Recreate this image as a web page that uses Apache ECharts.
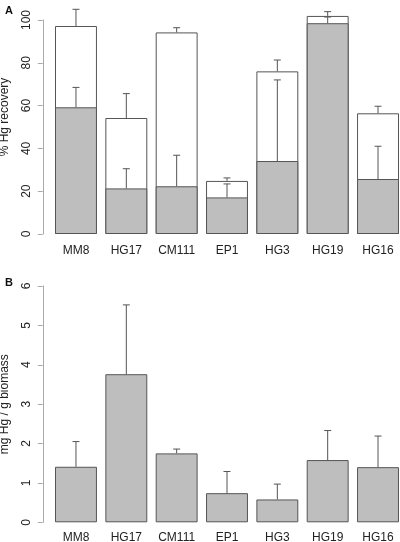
<!DOCTYPE html>
<html>
<head>
<meta charset="utf-8">
<script src="https://cdn.jsdelivr.net/npm/echarts@6/dist/echarts.min.js"></script>
<style>html,body{margin:0;padding:0;background:#fff}#c{width:400px;height:542px}</style>
</head>
<body>
<div id="c"></div>
<script>
var categories = ['MM8', 'HG17', 'CM111', 'EP1', 'HG3', 'HG19', 'HG16'];
var totalRecovery = [97.2, 54.2, 94.2, 24.8, 76.0, 101.9, 56.4];
var totalErr = [7.8, 11.4, 2.2, 1.4, 5.3, 2.0, 3.3];
var cellRecovery = [59.2, 21.3, 22.3, 17.1, 34.1, 98.5, 25.7];
var cellErr = [9.3, 9.2, 14.5, 6.3, 37.9, 2.9, 15.3];
var biomass = [1.41, 3.76, 1.75, 0.74, 0.58, 1.58, 1.40];
var biomassErr = [0.64, 1.76, 0.11, 0.55, 0.39, 0.75, 0.79];
var ticksA = [0, 20, 40, 60, 80, 100];
var ticksB = [0, 1, 2, 3, 4, 5, 6];

var FONT = 'Liberation Sans, Arial, sans-serif';
var EDGE = '#555555';
var GRAY = '#bebebe';

function errData(vals, errs) {
  return vals.map(function (v, i) { return [i, v, v + errs[i]]; });
}
function errSeries(xi, yi, vals, errs) {
  return {
    type: 'custom', xAxisIndex: xi, yAxisIndex: yi, clip: false, z: 5,
    data: errData(vals, errs),
    renderItem: function (params, api) {
      var lo = api.coord([api.value(0), api.value(1)]);
      var hi = api.coord([api.value(0), api.value(2)]);
      var cw = 3.5;
      return {
        type: 'group',
        children: [
          { type: 'line', shape: { x1: lo[0], y1: lo[1], x2: hi[0], y2: hi[1] }, style: { stroke: EDGE, lineWidth: 1 } },
          { type: 'line', shape: { x1: hi[0] - cw, y1: hi[1], x2: hi[0] + cw, y2: hi[1] }, style: { stroke: EDGE, lineWidth: 1 } }
        ]
      };
    }
  };
}

var chart = echarts.init(document.getElementById('c'), null, { renderer: 'canvas' });
var yAxisCommon = {
  type: 'value', offset: 8,
  axisLine: { show: true, lineStyle: { color: '#aaaaaa', width: 1 } },
  axisTick: { show: true, length: 5, lineStyle: { color: '#aaaaaa' } },
  splitLine: { show: false },
  axisLabel: { rotate: 90, margin: 10, color: '#222', fontSize: 12, fontFamily: FONT },
  nameLocation: 'middle',
  nameTextStyle: { color: '#222', fontSize: 12, fontFamily: FONT }
};
var xAxisCommon = {
  type: 'category', data: categories,
  axisLine: { show: false }, axisTick: { show: false },
  axisLabel: { color: '#222', fontSize: 12, fontFamily: FONT, interval: 0 }
};

chart.setOption({
  animation: false,
  backgroundColor: '#ffffff',
  title: [
    { text: 'A', left: 0, top: 0, textStyle: { fontSize: 11, fontWeight: 'bold', color: '#111', fontFamily: FONT } },
    { text: 'B', left: 0, top: 272, textStyle: { fontSize: 11, fontWeight: 'bold', color: '#111', fontFamily: FONT } }
  ],
  grid: [
    { left: 50.8, width: 352.4, top: 20, height: 214, outerBoundsMode: 'none', containLabel: false },
    { left: 50.8, width: 352.4, top: 286, height: 236.3, outerBoundsMode: 'none', containLabel: false }
  ],
  xAxis: [
    Object.assign({}, xAxisCommon, { gridIndex: 0, axisLabel: Object.assign({}, xAxisCommon.axisLabel, { margin: 11 }) }),
    Object.assign({}, xAxisCommon, { gridIndex: 1, axisLabel: Object.assign({}, xAxisCommon.axisLabel, { margin: 9 }) })
  ],
  yAxis: [
    Object.assign({}, yAxisCommon, { gridIndex: 0, min: ticksA[0], max: ticksA[ticksA.length - 1], interval: 20,
      name: '% Hg recovery', nameGap: 32,
      nameTextStyle: Object.assign({}, yAxisCommon.nameTextStyle, { padding: [0, 0, 0, 20] }) }),
    Object.assign({}, yAxisCommon, { gridIndex: 1, min: ticksB[0], max: ticksB[ticksB.length - 1], interval: 1,
      name: 'mg Hg / g biomass', nameGap: 32 })
  ],
  series: [
    { type: 'bar', xAxisIndex: 0, yAxisIndex: 0, data: totalRecovery, barWidth: '83.3%', barGap: '-100%', clip: false,
      itemStyle: { color: '#ffffff', borderColor: EDGE, borderWidth: 1 }, z: 2 },
    errSeries(0, 0, totalRecovery, totalErr),
    { type: 'bar', xAxisIndex: 0, yAxisIndex: 0, data: cellRecovery, barWidth: '83.3%', barGap: '-100%', clip: false,
      itemStyle: { color: GRAY, borderColor: EDGE, borderWidth: 1 }, z: 3 },
    errSeries(0, 0, cellRecovery, cellErr),
    { type: 'bar', xAxisIndex: 1, yAxisIndex: 1, data: biomass, barWidth: '83.3%', clip: false,
      itemStyle: { color: GRAY, borderColor: EDGE, borderWidth: 1 }, z: 3 },
    errSeries(1, 1, biomass, biomassErr)
  ]
});
</script>
</body>
</html>
